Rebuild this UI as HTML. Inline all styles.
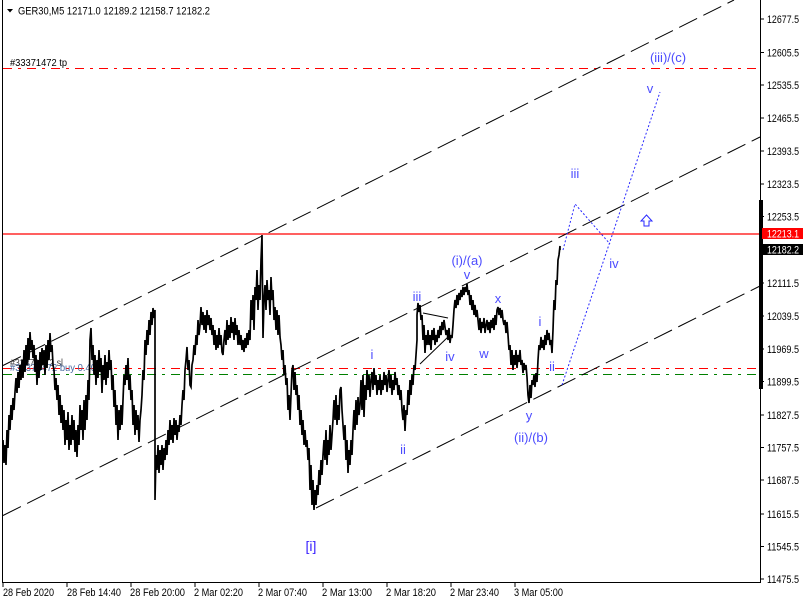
<!DOCTYPE html>
<html><head><meta charset="utf-8"><style>
html,body{margin:0;padding:0;background:#fff;}
svg{display:block;}
text{font-family:"Liberation Sans",Arial,sans-serif;}
</style></head><body>
<svg width="806" height="603" viewBox="0 0 806 603" xmlns="http://www.w3.org/2000/svg">
<rect width="806" height="603" fill="#fff"/>
<!-- horizontal level lines -->
<line x1="3" y1="68.5" x2="760" y2="68.5" stroke="#ff0000" stroke-width="1" stroke-dasharray="9 6 3 6"/>
<line x1="3" y1="368.5" x2="760" y2="368.5" stroke="#ff0000" stroke-width="1" stroke-dasharray="9 6 3 6"/>
<line x1="3" y1="374.5" x2="760" y2="374.5" stroke="#008000" stroke-width="1" stroke-dasharray="9 6 3 6"/>
<line x1="3" y1="234" x2="760" y2="234" stroke="#ff0000" stroke-width="1.2"/>
<!-- channel lines -->
<g stroke="#000" stroke-width="1" stroke-dasharray="20 7" fill="none">
<line x1="3" y1="365.5" x2="734" y2="0"/>
<line x1="3" y1="515.5" x2="760" y2="137"/>
<line x1="316" y1="508" x2="760" y2="286"/>
</g>
<!-- triangle lines -->
<line x1="423" y1="313" x2="448" y2="318" stroke="#000" stroke-width="1"/>
<line x1="420" y1="364" x2="449" y2="336" stroke="#000" stroke-width="1"/>
<!-- order labels -->
<text x="10" y="66" font-size="10.5" fill="#000" textLength="57" lengthAdjust="spacingAndGlyphs">#33371472 tp</text>
<text x="10" y="366" font-size="10.5" fill="#444" textLength="53" lengthAdjust="spacingAndGlyphs">#33371472 sl</text>
<text x="10" y="371" font-size="10.5" fill="#4a6aa0" textLength="86" lengthAdjust="spacingAndGlyphs">#33371472 buy 0.40</text>
<!-- price series -->
<polyline fill="none" stroke="#000" stroke-width="1.7" stroke-linejoin="miter" points="
3,440 4,463 5,445 6,465 7,430 8,448 9,415 10,430 11,405 12,420 13,398 14,410 15,392
16,378 17,393 18,372 19,388 20,365 21,380 22,360 23,378 24,350 25,372
26,345 27,365 28,338 29,360 30,332 31,350 32,340 33,358
34,345 35,372 36,355 37,385 38,360 39,378 40,352 41,370 42,348 43,365 44,350 45,375 46,345 47,368 48,340 49,360 50,333 51,352 52,345 53,365
54,370 55,390 56,378 57,400 58,385 59,415 60,395 61,423 62,405
63,430 64,410 65,445 66,420 67,440 68,412 69,450 70,425 71,445 72,415 73,440 74,420 75,452 76,430 77,457 78,425 79,445 80,405 81,430 82,410 83,440 84,400 85,430 86,395 87,420
88,380 89,400 90,340 91,328 92,360
93,345 94,375 95,355 96,385 97,360 98,378 99,350 100,372 101,358 102,393 103,365 104,380 105,355 106,385 107,362 108,378 109,350 110,370 111,360 112,390 113,375
114,407 115,390 116,425 117,405 118,440 119,410 120,430 121,405 122,425 123,400
124,375 125,385 126,365 127,380 128,358 129,390 130,375
131,400 132,390 133,425 134,405 135,435 136,410 137,430 138,415 139,442 140,420
141,410 142,395 143,370 144,380 145,340 146,355 147,330 148,345 149,320 150,335 151,312 152,325 153,308 154,318 155,310 155,500 156,455
157,470 158,445 159,473 160,450 161,465 162,445 163,470 164,448 165,460 166,440 167,455
168,430 169,445 170,420 171,440 172,425 173,443 174,418 175,435 176,420 177,440 178,425 179,432 180,415 181,425 182,405
183,390 184,400 185,370 186,360 187,347
188,370 189,360 190,385 191,387 192,365 193,360 194,345 195,355 196,335 197,345 198,320 199,335 200,325
201,307 202,325 203,312 204,330 205,315 206,333 207,310 208,325 209,315 210,330 211,318 212,335
213,325 214,345 215,330 216,350 217,335 218,348 219,328 220,345 221,335 222,352 223,355 224,340
225,330 226,345 227,320 228,340 229,325 230,338 231,317 232,333 233,322 234,340 235,318 236,335 237,325 238,345 239,330 240,345
241,335 242,350 243,340 244,352 245,338 246,348 247,333 248,345 249,330 250,340
251,300 252,320 253,295 254,330 255,287
256,300 257,270 258,310 259,285 260,300 261,260 262,235 263,338 264,300
265,285 266,310 267,280 268,300 269,290 270,315 271,277 272,300 273,290
274,320 275,307 276,330 277,310 278,335 279,315 280,337
281,345 282,360 283,350 284,375 285,365 286,385 287,378 288,410 289,395 290,420
291,395 292,370 293,365 294,390 295,372 296,395 297,385
298,410 299,395 300,425 301,410 302,435 303,420 304,445 305,430 306,447 307,440
308,460 309,448 310,490 311,465 312,505 313,480 314,510 315,490 316,505 317,485
318,495 319,470 320,485 321,460 322,475 323,455
324,440 325,460 326,430 327,465 328,440 329,455 330,425 331,450 332,435 333,420
334,400 335,420 336,395 337,425 338,405 339,420 340,390 341,387 342,410 343,425
344,440 345,425 346,460 347,440 348,473 349,450 350,465 351,440 352,455 353,430
354,410 355,430 356,400 357,425 358,397 359,415 360,405
361,380 362,410 363,375 364,417 365,385 366,400 367,370
368,390 369,375 370,397 371,380 372,372 373,390 374,368 375,385 376,375 377,395 378,380 379,390 380,375
381,395 382,380 383,390 384,372 385,385 386,375 387,392 388,380 389,370 390,388 391,375 392,395 393,380 394,390 395,372 396,385 397,378
398,395 399,385 400,400 401,390 402,410
403,420 404,405 405,431 406,410 407,415
408,390 409,405 410,380 411,395 412,375 413,385
414,365 415,370 416,355 417,340
417,315 418,303 419,312 420,305
421,320 422,315 423,340 424,325 425,353 426,335 427,345
428,330 429,345 430,335 431,350 432,330 433,340 434,328 435,345 436,335 437,342 438,330 439,338 440,326 441,335 442,322 443,330 444,320 445,327 446,335 447,330
448,340 449,328 450,343 451,335 452,338 453,325
454,310 455,300 456,308 457,295 458,305 459,293 460,300
461,290 462,297 463,287 464,295 465,287 466,292 467,284
468,295 469,290 470,305 471,295 472,310 473,300 474,315 475,305 476,317 477,310
478,320 479,330 480,318 481,333 482,322 483,328 484,318 485,333 486,325 487,320
488,330 489,322 490,333 491,320 492,328 493,318 494,330 495,315 496,325 497,310
498,307 499,315 500,308 501,318 502,310 503,320
504,325 505,320 506,333 507,322 508,335
509,350 510,345 511,365 512,350 513,370 514,355 515,365 516,350 517,368 518,355 519,362 520,350
521,365 522,360 523,373 524,363 525,370 526,365 527,377
528,395 529,403 530,385 531,398 532,380
533,385 534,375 535,387 536,373 537,382 538,360
539,345 540,350 541,337 542,348 543,340 544,350 545,335
546,345 547,330 548,340 549,333 550,345
551,340 552,353 553,330
554,300 555,310 556,280 557,285 558,260 559,255 560,246 560,250"/>
<!-- blue dotted projections -->
<g stroke="#2a2aff" stroke-width="1" stroke-dasharray="2 2" fill="none">
<polyline points="563,250 575,204 610,244"/>
<line x1="562" y1="385" x2="660" y2="92"/>
</g>
<!-- hollow up arrow -->
<polygon points="646.5,215 652,221 649,221 649,226 644,226 644,221 641,221" fill="#fff" stroke="#2a2aff" stroke-width="1"/>
<!-- wave labels -->
<g fill="#4b4bff" font-size="13" text-anchor="middle">
<text x="372" y="359">i</text>
<text x="403" y="454">ii</text>
<text x="417" y="301">iii</text>
<text x="450" y="361">iv</text>
<text x="467" y="265">(i)/(a)</text>
<text x="467" y="279">v</text>
<text x="498" y="303">x</text>
<text x="484" y="358">w</text>
<text x="540" y="326">i</text>
<text x="552" y="371">ii</text>
<text x="529" y="420">y</text>
<text x="531" y="442">(ii)/(b)</text>
<text x="575" y="178">iii</text>
<text x="668" y="62">(iii)/(c)</text>
<text x="650" y="93">v</text>
<text x="614" y="268">iv</text>
</g>
<text x="311" y="551" fill="#3a22ff" font-size="14" text-anchor="middle">[i]</text>
<!-- frame -->
<line x1="2.5" y1="0" x2="2.5" y2="582" stroke="#000" stroke-width="1"/>
<line x1="2" y1="582.5" x2="761" y2="582.5" stroke="#000" stroke-width="1"/>
<line x1="760.5" y1="0" x2="760.5" y2="583" stroke="#000" stroke-width="1"/>
<rect x="759" y="200" width="4" height="189" fill="#000"/>
<!-- header -->
<polygon points="7,9 13,9 10,12.5" fill="#000"/>
<text x="18" y="14.5" font-size="11" fill="#000" textLength="192" lengthAdjust="spacingAndGlyphs">GER30,M5  12171.0 12189.2 12158.7 12182.2</text>
<!-- price axis -->
<g stroke="#000" stroke-width="1">
<line x1="760" y1="19" x2="764" y2="19"/>
<line x1="760" y1="52.5" x2="764" y2="52.5"/>
<line x1="760" y1="85" x2="764" y2="85"/>
<line x1="760" y1="118" x2="764" y2="118"/>
<line x1="760" y1="151" x2="764" y2="151"/>
<line x1="760" y1="184" x2="764" y2="184"/>
<line x1="760" y1="216.5" x2="764" y2="216.5"/>
<line x1="760" y1="283" x2="764" y2="283"/>
<line x1="760" y1="316" x2="764" y2="316"/>
<line x1="760" y1="349" x2="764" y2="349"/>
<line x1="760" y1="381.5" x2="764" y2="381.5"/>
<line x1="760" y1="415" x2="764" y2="415"/>
<line x1="760" y1="447.5" x2="764" y2="447.5"/>
<line x1="760" y1="480" x2="764" y2="480"/>
<line x1="760" y1="514" x2="764" y2="514"/>
<line x1="760" y1="546.5" x2="764" y2="546.5"/>
<line x1="760" y1="579" x2="764" y2="579"/>
</g>
<g font-size="11" fill="#000">
<text x="767" y="23" textLength="32" lengthAdjust="spacingAndGlyphs">12677.5</text>
<text x="767" y="56.5" textLength="32" lengthAdjust="spacingAndGlyphs">12605.5</text>
<text x="767" y="89" textLength="32" lengthAdjust="spacingAndGlyphs">12535.5</text>
<text x="767" y="122" textLength="32" lengthAdjust="spacingAndGlyphs">12465.5</text>
<text x="767" y="155" textLength="32" lengthAdjust="spacingAndGlyphs">12393.5</text>
<text x="767" y="188" textLength="32" lengthAdjust="spacingAndGlyphs">12323.5</text>
<text x="767" y="220.5" textLength="32" lengthAdjust="spacingAndGlyphs">12253.5</text>
<text x="767" y="287" textLength="32" lengthAdjust="spacingAndGlyphs">12111.5</text>
<text x="767" y="320" textLength="32" lengthAdjust="spacingAndGlyphs">12039.5</text>
<text x="767" y="353" textLength="32" lengthAdjust="spacingAndGlyphs">11969.5</text>
<text x="767" y="385.5" textLength="32" lengthAdjust="spacingAndGlyphs">11899.5</text>
<text x="767" y="419" textLength="32" lengthAdjust="spacingAndGlyphs">11827.5</text>
<text x="767" y="451.5" textLength="32" lengthAdjust="spacingAndGlyphs">11757.5</text>
<text x="767" y="484" textLength="32" lengthAdjust="spacingAndGlyphs">11687.5</text>
<text x="767" y="518" textLength="32" lengthAdjust="spacingAndGlyphs">11615.5</text>
<text x="767" y="550.5" textLength="32" lengthAdjust="spacingAndGlyphs">11545.5</text>
<text x="767" y="583" textLength="32" lengthAdjust="spacingAndGlyphs">11475.5</text>
</g>
<!-- price tags -->
<rect x="762" y="228" width="41" height="11" fill="#ff0000"/>
<text x="767" y="237.5" font-size="11" fill="#fff" textLength="32" lengthAdjust="spacingAndGlyphs">12213.1</text>
<rect x="762" y="244" width="41" height="11" fill="#000"/>
<text x="767" y="253.5" font-size="11" fill="#fff" textLength="32" lengthAdjust="spacingAndGlyphs">12182.2</text>
<!-- time axis -->
<g stroke="#000" stroke-width="1">
<line x1="3" y1="582" x2="3" y2="587"/>
<line x1="67" y1="582" x2="67" y2="587"/>
<line x1="131" y1="582" x2="131" y2="587"/>
<line x1="195" y1="582" x2="195" y2="587"/>
<line x1="259" y1="582" x2="259" y2="587"/>
<line x1="323" y1="582" x2="323" y2="587"/>
<line x1="387" y1="582" x2="387" y2="587"/>
<line x1="451" y1="582" x2="451" y2="587"/>
<line x1="515" y1="582" x2="515" y2="587"/>
</g>
<g font-size="11" fill="#000">
<text x="3" y="596" textLength="51" lengthAdjust="spacingAndGlyphs">28 Feb 2020</text>
<text x="67" y="596" textLength="54" lengthAdjust="spacingAndGlyphs">28 Feb 14:40</text>
<text x="130" y="596" textLength="55" lengthAdjust="spacingAndGlyphs">28 Feb 20:00</text>
<text x="194" y="596" textLength="49" lengthAdjust="spacingAndGlyphs">2 Mar 02:20</text>
<text x="258" y="596" textLength="49" lengthAdjust="spacingAndGlyphs">2 Mar 07:40</text>
<text x="322" y="596" textLength="50" lengthAdjust="spacingAndGlyphs">2 Mar 13:00</text>
<text x="386" y="596" textLength="50" lengthAdjust="spacingAndGlyphs">2 Mar 18:20</text>
<text x="450" y="596" textLength="49" lengthAdjust="spacingAndGlyphs">2 Mar 23:40</text>
<text x="514" y="596" textLength="49" lengthAdjust="spacingAndGlyphs">3 Mar 05:00</text>
</g>
</svg>
</body></html>
